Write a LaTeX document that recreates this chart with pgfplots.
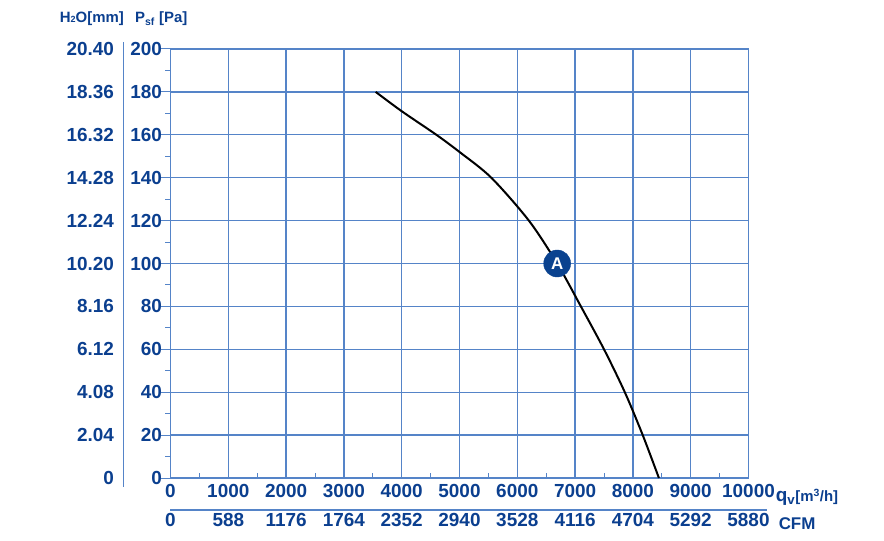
\documentclass[border=0pt]{standalone}
\usepackage{pgfplots}
\pgfplotsset{compat=1.18}
\usepackage{fontspec}
\setmainfont{Liberation Sans}
\definecolor{txtblue}{HTML}{0B3F8F}
\definecolor{gridblue}{HTML}{5584C8}
\definecolor{markblue}{HTML}{0A428F}
\begin{document}
\begin{tikzpicture}
\path[use as bounding box] (-170.5bp,-63bp) rectangle (713.5bp,478bp);
\begin{axis}[
  at={(0,0)}, anchor=south west,
  scale only axis, width=578bp, height=429bp,
  xmin=0, xmax=10000, ymin=0, ymax=200,
  xtick={0,1000,...,10000}, ytick={0,20,...,200},
  scaled x ticks=false, scaled y ticks=false,
  minor x tick num=1, minor y tick num=1,
  xtick pos=left, ytick pos=left,
  grid=major,
  major grid style={draw=gridblue, line width=1.3bp},
  axis line style={draw=gridblue, line width=1.3bp},
  tick style={draw=gridblue, line width=1bp},
  tick align=outside,
  major tick length=10bp, minor tick length=5bp,
  major x tick style={draw=none},
  minor x tick style={yshift=5bp},
  xticklabels={{0\\0},{1000\\588},{2000\\1176},{3000\\1764},{4000\\2352},{5000\\2940},{6000\\3528},{7000\\4116},{8000\\4704},{9000\\5292},{10000\\5880}},
  yticklabels={0,20,40,60,80,100,120,140,160,180,200},
  xticklabel style={align=center, font=\fontsize{19}{29}\selectfont\bfseries, text=txtblue, yshift=7bp},
  yticklabel style={font=\fontsize{19}{22}\selectfont\bfseries, text=txtblue, xshift=5bp},
  clip=false,
]
\addplot[black, line width=2bp, smooth, tension=0.5] coordinates {
(3550,180) (4000,171) (4600,160) (5000,152) (5550,140) (6200,120) (6690,100) (7100,80) (7500,60) (7860,40) (8170,20) (8450,0)
};
\addplot[only marks, mark=*, mark size=13.5bp, mark options={draw=markblue, fill=markblue},
  nodes near coords={A},
  every node near coord/.style={anchor=center, text=white, font=\fontsize{17}{20}\selectfont\bfseries}]
  coordinates {(6690,100)};
\draw[gridblue, line width=1.1bp] ([xshift=-47bp]axis description cs:0,1.016) -- ([xshift=-47bp]axis description cs:0,-0.021);
\draw[gridblue, line width=1.1bp] (axis description cs:0,-0.0746) -- (axis description cs:1.032,-0.0746);
\node[anchor=base, text=txtblue, font=\fontsize{15}{18}\selectfont\bfseries] at (axis description cs:-0.136,1.062) {H\raisebox{0pt}{\fontsize{9}{10}\selectfont 2}O[mm]};
\node[anchor=base, text=txtblue, font=\fontsize{15}{18}\selectfont\bfseries] at (axis description cs:-0.016,1.062) {P\textsubscript{sf} [Pa]};
\node[anchor=base west, inner sep=0pt, text=txtblue, font=\fontsize{19}{22}\selectfont\bfseries] at (axis description cs:1.047,-0.055) {q\textsubscript{v}{\fontsize{15}{18}\selectfont[m\textsuperscript{3}/h]}};
\node[anchor=base west, inner sep=0pt, text=txtblue, font=\fontsize{17}{20}\selectfont\bfseries] at (axis description cs:1.052,-0.12) {CFM};
\end{axis}
\begin{axis}[
  at={(0,0)}, anchor=south west,
  scale only axis, width=578bp, height=429bp,
  xmin=0, xmax=10000, ymin=0, ymax=200,
  hide x axis,
  axis y line*=left,
  y axis line style={draw=none},
  ytick={0,20,...,200},
  major tick length=0pt,
  ytick style={draw=none},
  yticklabels={0,2.04,4.08,6.12,8.16,10.20,12.24,14.28,16.32,18.36,20.40},
  yticklabel style={font=\fontsize{19}{22}\selectfont\bfseries, text=txtblue, xshift=-53bp},
]
\addplot[draw=none] coordinates {(0,0)};
\end{axis}
\end{tikzpicture}
\end{document}
